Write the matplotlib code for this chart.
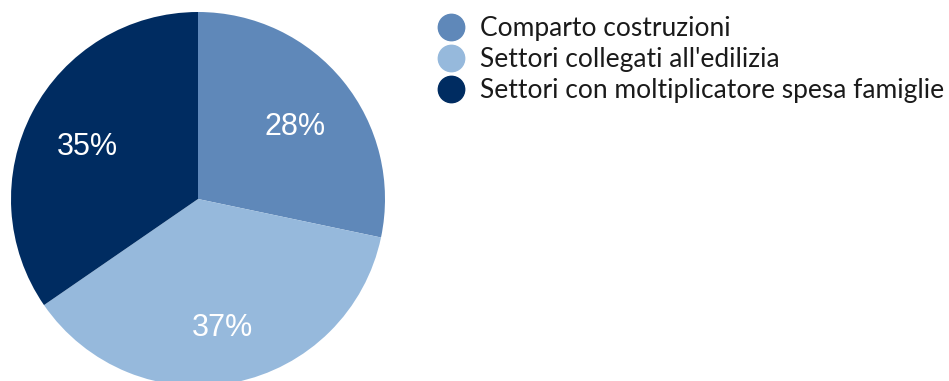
import matplotlib
matplotlib.use("Agg")
import matplotlib.pyplot as plt
from matplotlib.lines import Line2D
from matplotlib.transforms import offset_copy

categories = ["Comparto costruzioni", "Settori collegati all'edilizia",
              "Settori con moltiplicatore spesa famiglie"]
shares = [28.3, 37.1, 34.6]
colors = ["#5f88b9", "#96b9dc", "#002c61"]

W, H, DPI = 949, 381, 100
fig = plt.figure(figsize=(W / DPI, H / DPI), dpi=DPI)

# pie centred at (198, 199) px from top-left, radius 187 px
cx, cy, r = 198, 199, 187
ax = fig.add_axes([(cx - r) / W, (H - cy - r) / H, 2 * r / W, 2 * r / H])
wedges, texts, autotexts = ax.pie(
    shares, colors=colors, startangle=90, counterclock=False,
    autopct="%.0f%%", pctdistance=0.668,
    wedgeprops=dict(linewidth=0),
    textprops=dict(color="white", fontsize=22, family="Liberation Sans"),
)
for t in autotexts:
    t.set_verticalalignment("center_baseline")
    t.set_transform(offset_copy(ax.transData, fig=fig, x=0, y=-3, units="dots"))
ax.set_xlim(-1, 1)
ax.set_ylim(-1, 1)
ax.set_aspect("equal")
ax.axis("off")

handles = [Line2D([], [], marker="o", linestyle="none", markersize=19,
                  markerfacecolor=c, markeredgecolor=c) for c in colors]
fig.legend(handles, categories, loc="upper left",
           bbox_to_anchor=(438 / W, 1 - 16 / H), frameon=False,
           prop=dict(family="Lato", size=19), labelcolor="#1a1a1a",
           handlelength=1.0, handletextpad=0.6, labelspacing=0.23,
           borderpad=0, borderaxespad=0)

fig.savefig("out.png", dpi=DPI, facecolor="white")
